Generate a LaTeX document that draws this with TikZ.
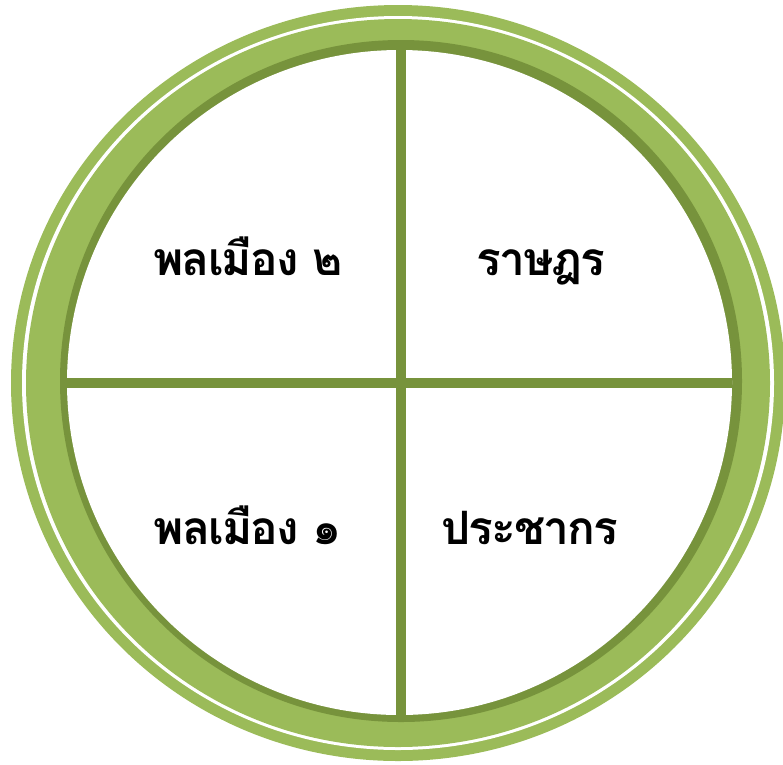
\documentclass[tikz,border=0pt]{standalone}
\usepackage{fontspec}
\newfontfamily\thaifont[Script=Thai,LetterSpace=-4]{Loma}
\definecolor{ringgreen}{HTML}{9BBB59}
\definecolor{bargreen}{HTML}{77933C}
\begin{document}
\begin{tikzpicture}[
  x=1pt,
  y=-1pt,
  bar/.style={draw=bargreen,line width=10.5pt},
  label/.style={anchor=base,inner sep=0pt,font=\thaifont\bfseries\fontsize{46}{52}\selectfont,text=black}
]
  \useasboundingbox (0,0) rectangle (783,764);

  % Outer rings.
  \fill[ringgreen] (398,383) ellipse[x radius=387,y radius=378];
  \fill[white] (398,383) ellipse[x radius=376,y radius=367];
  \fill[ringgreen] (398,383) ellipse[x radius=372,y radius=364];
  \fill[bargreen] (401,381) circle[radius=341];
  \fill[white] (399.5,382.5) circle[radius=332.5];

  % Cross dividing the disc.
  \coordinate (w) at (67,383);
  \coordinate (e) at (732,383);
  \coordinate (n) at (401,50);
  \coordinate (s) at (401,716);
  \draw[bar] (w) -- (e);
  \draw[bar] (n) -- (s);

  % Quarter labels, placed on their baselines.
  \node[label] (pm2) at (248,275) {พลเมือง ๒};
  \node[label] (rat) at (541,275) {ราษฎร};
  \node[label] (pm1) at (248,544) {พลเมือง ๑};
  \node[label] (pra) at (530,544) {ประชากร};
\end{tikzpicture}
\end{document}
